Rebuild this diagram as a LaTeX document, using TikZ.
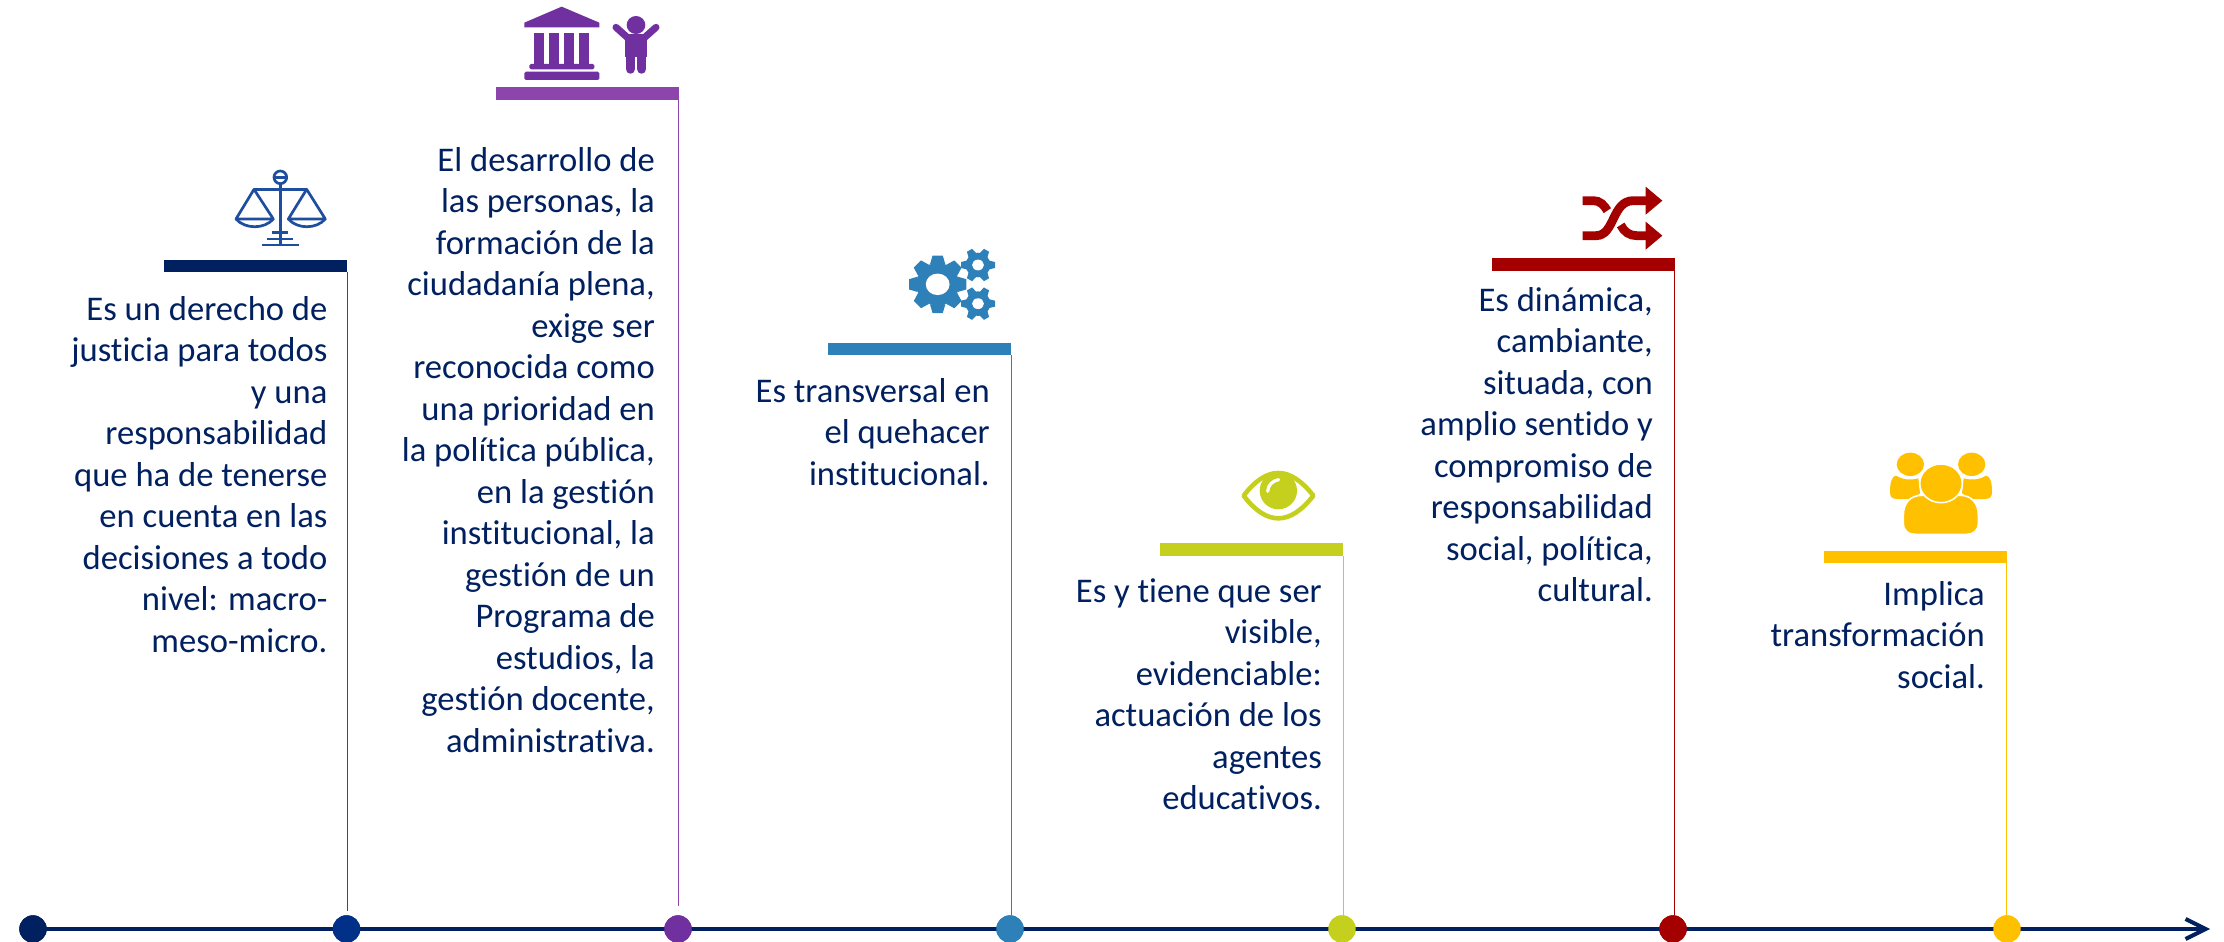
\documentclass[tikz,border=0pt]{standalone}
\usepackage{fontspec}
\setmainfont[Ligatures=CommonOff]{Carlito}
\usetikzlibrary{arrows.meta}
\definecolor{navy}{HTML}{002060}
\definecolor{deep}{HTML}{003087}
\definecolor{scalec}{HTML}{1F4E9E}
\definecolor{purp}{HTML}{7030A0}
\definecolor{purpbar}{HTML}{8E44AD}
\definecolor{blu}{HTML}{2E80B9}
\definecolor{lime}{HTML}{C5D01E}
\definecolor{redd}{HTML}{A50000}
\definecolor{yell}{HTML}{FFC000}
\newcommand{\txtfont}{\fontsize{34.6}{41.5}\selectfont}
\newcommand{\gearshape}[6]{%
  \begin{scope}[shift={(#1,#2)}]
  \fill[blu] (0,0) circle[radius=#4];
  \foreach \k in {1,...,#6}{
    \fill[blu,rotate=360/#6*\k] (#4-4,-#4*0.36) -- (#3,-#4*0.24) -- (#3,#4*0.24) -- (#4-4,#4*0.36) -- cycle;
  }
  \fill[white] (0,0) ellipse[x radius=#5*1.05,y radius=#5*0.95];
  \end{scope}}
\tikzset{
  barbox/.style={rectangle,inner sep=0pt,minimum width=183pt,minimum height=12.5pt,fill=#1},
  dot/.style={circle,inner sep=0pt,minimum size=27.5pt,fill=#1},
  stem/.style={draw=#1,line width=1.3pt},
  said/.style={anchor=north east,inner sep=0pt,align=right,text=navy,font=\txtfont},
  zoomed/.style 2 args={shift={(#1,#2)},x=0.33333pt,y=-0.33333pt}
}
\begin{document}
\begin{tikzpicture}[x=1pt,y=-1pt]
\useasboundingbox (0,0) rectangle (2224,942);
\fill[white] (0,0) rectangle (2224,942);

% axis
\node[dot=navy] (c0) at (33,929) {};
\node[dot=deep] (c1) at (346.5,929) {};
\node[dot=purp] (c2) at (678,929) {};
\node[dot=blu] (c3) at (1010,929) {};
\node[dot=lime] (c4) at (1342,929) {};
\node[dot=redd] (c5) at (1673,929) {};
\node[dot=yell] (c6) at (2007,929) {};
\coordinate (axisend) at (2210,929);
\draw[navy,line width=4pt,-{Straight Barb[length=20pt,width=20pt,line width=4pt]}] (c0.center) -- (axisend);
\foreach \n/\c in {c0/navy,c1/deep,c2/purp,c3/blu,c4/lime,c5/redd,c6/yell}{
  \fill[\c] (\n) circle[radius=13.7];
}

% bars
\node[barbox=navy] (b1) at (255.5,266) {};
\node[barbox=purpbar] (b2) at (587,93.3) {};
\node[barbox=blu] (b3) at (919.5,349) {};
\node[barbox=lime] (b4) at (1251.5,549.5) {};
\node[barbox=redd] (b5) at (1583,264.5) {};
\node[barbox=yell] (b6) at (1915,557) {};

% stems
\draw[stem=scalec,shorten >=4pt] (b1.south east) -- (c1.north -| b1.south east);
\draw[stem=purpbar,shorten >=9pt] (b2.south east) -- (c2.north -| b2.south east);
\draw[stem=blu] (b3.south east) -- (c3.north -| b3.south east);
\draw[stem=lime] (b4.south east) -- (c4.north -| b4.south east);
\draw[stem=redd] (b5.south east) -- (c5.north -| b5.south east);
\draw[stem=yell] (b6.south east) -- (c6.north -| b6.south east);

% texts
\node[said] (t1) at (327.6,291) {\strut Es un derecho de\\justicia para todos\\y una\\responsabilidad\\que ha de tenerse\\en cuenta en las\\decisiones a todo\\nivel: macro-\\meso-micro.};
\node[said] (t2) at (655,142) {\strut El desarrollo de\\las personas, la\\formación de la\\ciudadanía plena,\\exige ser\\reconocida como\\una prioridad en\\la política pública,\\en la gestión\\institucional, la\\gestión de un\\Programa de\\estudios, la\\gestión docente,\\administrativa.};
\node[said] (t3) at (990,373) {\strut Es transversal en\\el quehacer\\institucional.};
\node[said] (t4) at (1322,573) {\strut Es y tiene que ser\\visible,\\evidenciable:\\actuación de los\\agentes\\educativos.};
\node[said] (t5) at (1653,282) {\strut Es dinámica,\\cambiante,\\situada, con\\amplio sentido y\\compromiso de\\responsabilidad\\social, política,\\cultural.};
\node[said] (t6) at (1985,576) {\strut Implica\\transformación\\social.};

% scales icon
\begin{scope}[zoomed={150}{150},draw=scalec,line width=2.7pt,line join=round]
  \draw (391,82) circle[radius=19];
  \draw (375,82) -- (407,82);
  \draw (312,118) -- (470,118);
  \draw (391,101) -- (391,285);
  \draw (312,118) -- (258,207) -- (370,207) -- cycle;
  \draw (470,118) -- (415,207) -- (526,207) -- cycle;
  \draw (258,207) .. controls (285,238) and (343,238) .. (370,207);
  \draw (415,207) .. controls (442,238) and (499,238) .. (526,207);
  \draw (367,248) -- (413,248);
  \draw (352,267) -- (430,267);
  \draw (337,285) -- (447,285);
\end{scope}

% institution and child icon
\begin{scope}[zoomed={480}{0}]
  \fill[purp] (245,20) -- (358,68) -- (358,82) -- (133,82) -- (133,68) -- cycle;
  \fill[purp] (163,98) rectangle (193,192);
  \fill[purp] (208,98) rectangle (238,192);
  \fill[purp] (253,98) rectangle (283,192);
  \fill[purp] (298,98) rectangle (328,192);
  \fill[purp,rounded corners=1.5pt] (148,192) rectangle (343,208);
  \fill[purp,rounded corners=1.5pt] (133,215) rectangle (358,240);
  \fill[purp] (468,75) ellipse[x radius=28,y radius=27];
  \fill[purp] (436,103) rectangle (500,170);
  \draw[purp,line width=7pt,line cap=round] (408,82) -- (445,115);
  \draw[purp,line width=7pt,line cap=round] (528,82) -- (491,115);
  \draw[purp,line width=9.5pt,line cap=round] (451,120) -- (451,207);
  \draw[purp,line width=9.5pt,line cap=round] (485,120) -- (485,207);
\end{scope}

% gears icon
\begin{scope}[zoomed={820}{240}]
  \gearshape{353}{133}{86}{64}{34}{8}
  \gearshape{474}{75}{51}{37}{17}{6}
  \gearshape{474}{191}{51}{37}{17}{6}
\end{scope}

% eye icon
\begin{scope}[zoomed={1160}{450}]
  \draw[lime,line width=4.6pt,line join=round] (251,137) .. controls (285,92) and (320,69) .. (355,69) .. controls (390,69) and (425,92) .. (460,137) .. controls (425,182) and (390,205) .. (355,205) .. controls (320,205) and (285,182) .. (251,137) -- cycle;
  \fill[lime] (355,122) circle[radius=56];
  \draw[white,line width=3.2pt,line cap=round] (323,124) .. controls (324,105) and (338,92) .. (356,89);
\end{scope}

% shuffle icon
\begin{scope}[zoomed={1490}{170},line width=8.8pt]
  \draw[redd] (278,92) -- (310,92) .. controls (330,92) and (342,105) .. (352,122);
  \draw[redd] (392,165) .. controls (402,185) and (418,197) .. (440,197) -- (472,197);
  \draw[redd] (278,197) -- (318,197) .. controls (375,197) and (365,92) .. (430,92) -- (472,92);
  \fill[redd] (467,50) -- (517,92) -- (467,134) -- cycle;
  \fill[redd] (467,155) -- (517,197) -- (467,239) -- cycle;
\end{scope}

% people icon
\begin{scope}[zoomed={1820}{440}]
  \fill[yell] (271,73) ellipse[x radius=41,y radius=35];
  \fill[yell] (455,73) ellipse[x radius=41,y radius=35];
  \fill[yell] (228,107) .. controls (245,118) and (270,122) .. (295,115) -- (300,160) .. controls (285,170) and (275,177) .. (262,177) -- (232,177) .. controls (215,177) and (210,170) .. (210,155) .. controls (210,130) and (215,108) .. (228,107) -- cycle;
  \fill[yell] (498,107) .. controls (481,118) and (456,122) .. (431,115) -- (426,160) .. controls (441,170) and (451,177) .. (464,177) -- (494,177) .. controls (511,177) and (516,170) .. (516,155) .. controls (516,130) and (511,108) .. (498,107) -- cycle;
  \fill[yell,draw=white,line width=1.6pt] (250,250) -- (250,225) .. controls (250,190) and (270,166) .. (305,166) -- (420,166) .. controls (455,166) and (475,190) .. (475,225) -- (475,250) .. controls (475,272) and (460,283) .. (440,283) -- (285,283) .. controls (265,283) and (250,272) .. (250,250) -- cycle;
  \fill[yell,draw=white,line width=1.6pt] (363,130) ellipse[x radius=64,y radius=58];
\end{scope}
\end{tikzpicture}
\end{document}
